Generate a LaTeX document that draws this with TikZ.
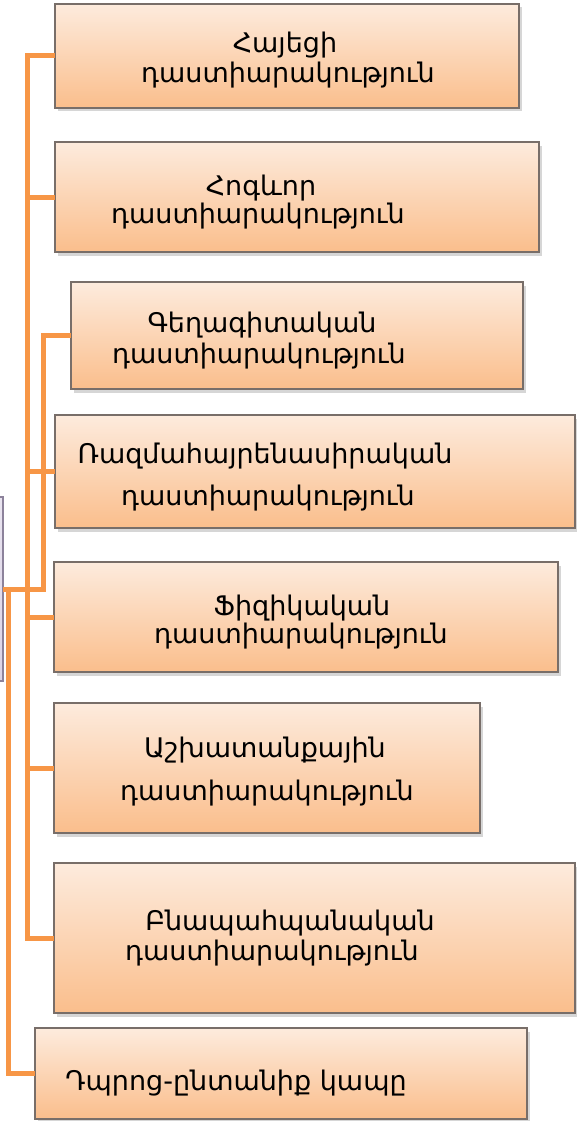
\documentclass[tikz,border=0pt]{standalone}
\usepackage{fontspec}
\setmainfont{DejaVu Sans}
\usetikzlibrary{shadows,calc}
\definecolor{conncol}{RGB}{247,150,70}
\definecolor{boxtop}{RGB}{253,235,221}
\definecolor{boxbot}{RGB}{250,190,140}
\definecolor{boxedge}{RGB}{120,110,105}
\definecolor{roottop}{RGB}{234,229,240}
\definecolor{rootbot}{RGB}{218,210,230}
\definecolor{rootedge}{RGB}{140,130,155}
\tikzset{
  box/.style={rectangle, draw=boxedge, line width=1.2pt, top color=boxtop, bottom color=boxbot,
    inner sep=0pt, outer sep=0pt, anchor=north west,
    drop shadow={shadow xshift=2.5pt, shadow yshift=-3.5pt, opacity=0.4, fill=black!40}},
  rootbox/.style={rectangle, draw=rootedge, line width=1.2pt, top color=roottop, bottom color=rootbot,
    inner sep=0pt, outer sep=0pt, anchor=east},
  conn/.style={draw=conncol, line width=5pt, line join=miter},
  lbl/.style={anchor=base, inner sep=0pt, font=\fontsize{27}{32}\selectfont, text=black}
}
\begin{document}
\begin{tikzpicture}[x=1pt,y=-1pt]
\useasboundingbox (0,0) rectangle (577,1121);
\fill[white] (0,0) rectangle (577,1121);
% root (partially visible)
\node[rootbox, minimum width=40, minimum height=184] (root) at (3,589) {};
% boxes
\node[box, minimum width=464, minimum height=104] (b1) at (55,4) {};
\node[box, minimum width=484, minimum height=110] (b2) at (55,142) {};
\node[box, minimum width=452, minimum height=107] (b3) at (71,282) {};
\node[box, minimum width=520, minimum height=113] (b4) at (55,415) {};
\node[box, minimum width=504, minimum height=110] (b5) at (54,562) {};
\node[box, minimum width=426, minimum height=130] (b6) at (54,703) {};
\node[box, minimum width=521, minimum height=150] (b7) at (54,863) {};
\node[box, minimum width=492, minimum height=91] (b8) at (35,1028) {};
% connectors
\coordinate (tA) at (27,0);
\coordinate (tB) at (43,0);
\coordinate (tC) at (8,0);
\draw[conn] (root.east) -- (root.east -| tB) |- (b3.west);
\draw[conn] (b1.west) -- (b1.west -| tA) |- (b7.west);
\draw[conn] (b2.west) -- (b2.west -| tA);
\draw[conn] (b4.west) -- (b4.west -| tA);
\draw[conn] (b5.west) -- (b5.west -| tA);
\draw[conn] (b6.west) -- (b6.west -| tA);
\draw[conn] (root.east) -- (root.east -| tC) |- (b8.west);
% labels
\node[lbl] (l1a) at (285,53) {Հայեցի};
\node[lbl] (l1b) at (288,83) {դաստիարակություն};
\node[lbl] (l2a) at (261,195) {Հոգևոր};
\node[lbl] (l2b) at (258,223) {դաստիարակություն};
\node[lbl] (l3a) at (262,332) {Գեղագիտական};
\node[lbl] (l3b) at (259,363) {դաստիարակություն};
\node[lbl] (l4a) at (265,463) {Ռազմահայրենասիրական};
\node[lbl] (l4b) at (268,505) {դաստիարակություն};
\node[lbl] (l5a) at (302,615) {Ֆիզիկական};
\node[lbl] (l5b) at (301,643) {դաստիարակություն};
\node[lbl] (l6a) at (265,757) {Աշխատանքային};
\node[lbl] (l6b) at (267,800) {դաստիարակություն};
\node[lbl] (l7a) at (290,930) {Բնապահպանական};
\node[lbl] (l7b) at (272,960) {դաստիարակություն};
\node[lbl] (l8) at (236,1090) {Դպրոց-ընտանիք կապը};
\end{tikzpicture}
\end{document}
